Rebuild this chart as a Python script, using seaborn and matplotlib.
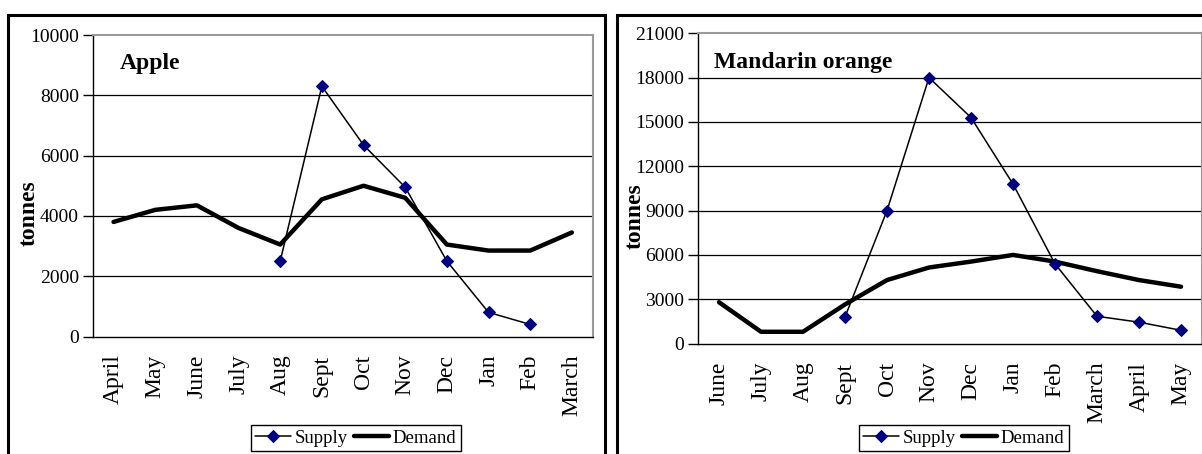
import numpy as np
import pandas as pd
import matplotlib
matplotlib.use("Agg")
import matplotlib.pyplot as plt
from matplotlib.patches import Rectangle
import seaborn as sns

# ---------------- data ----------------
apple_months = ["April", "May", "June", "July", "Aug", "Sept", "Oct", "Nov", "Dec", "Jan", "Feb", "March"]
apple_demand = [3800, 4200, 4350, 3600, 3050, 4550, 5000, 4600, 3050, 2850, 2850, 3450]
apple_supply = [np.nan, np.nan, np.nan, np.nan, 2500, 8300, 6350, 4950, 2500, 800, 400, np.nan]

mand_months = ["June", "July", "Aug", "Sept", "Oct", "Nov", "Dec", "Jan", "Feb", "March", "April", "May"]
mand_demand = [2800, 800, 800, 2650, 4300, 5150, 5550, 6000, 5550, 4900, 4300, 3850]
mand_supply = [np.nan, np.nan, np.nan, 1800, 9000, 18000, 15300, 10800, 5400, 1850, 1450, 900]

apple_yticks = [0, 2000, 4000, 6000, 8000, 10000]
mand_yticks = [0, 3000, 6000, 9000, 12000, 15000, 18000, 21000]

titles = ["Apple", "Mandarin orange"]
ylabel = "tonnes"
series_names = ["Supply", "Demand"]

# ---------------- style ----------------
sns.set_theme(style="white")
plt.rcParams["font.family"] = ["Liberation Serif", "DejaVu Serif"]
plt.rcParams["text.color"] = "black"
plt.rcParams["axes.labelcolor"] = "black"
plt.rcParams["xtick.color"] = "black"
plt.rcParams["ytick.color"] = "black"

W, H = 1202, 454
fig = plt.figure(figsize=(W / 100, H / 100), dpi=100)


def fx(px):
    return px / W


def fy(py):
    return 1 - py / H


panels = [
    dict(months=apple_months, demand=apple_demand, supply=apple_supply, yticks=apple_yticks,
         title=titles[0], box=(92.7, 35, 592.7, 336.5), label_px=(29, 213), legend_px=(356, 438),
         title_x=0.055),
    dict(months=mand_months, demand=mand_demand, supply=mand_supply, yticks=mand_yticks,
         title=titles[1], box=(698, 33.3, 1202, 343.6), label_px=(635, 216), legend_px=(964, 438),
         title_x=0.032),
]

for p in panels:
    x0, y0, x1, y1 = p["box"]
    ax = fig.add_axes([fx(x0), fy(y1), fx(x1 - x0), (y1 - y0) / H])
    df = pd.DataFrame({"month": p["months"], "Demand": p["demand"], "Supply": p["supply"]})
    n = len(p["months"])

    sns.lineplot(data=df, x="month", y="Demand", ax=ax, sort=False, estimator=None,
                 color="black", lw=3.2, label=series_names[1], zorder=3)
    sns.lineplot(data=df.dropna(subset=["Supply"]), x="month", y="Supply", ax=ax, sort=False,
                 estimator=None, color="black", lw=1.1, marker="D", markersize=6.5,
                 markerfacecolor="#000080", markeredgecolor="#000080", label=series_names[0], zorder=4)

    ax.set_xlim(-0.5, n - 0.5)
    ax.set_ylim(p["yticks"][0], p["yticks"][-1])
    ax.set_yticks(p["yticks"])
    ax.set_yticklabels([str(v) for v in p["yticks"]], fontsize=14, color="black")
    ax.set_xticks(np.arange(n))
    ax.set_xticklabels(p["months"], rotation=90, fontsize=17, va="top", ha="center", color="black")
    ax.set_xticks(np.arange(n + 1) - 0.5, minor=True)
    ax.tick_params(axis="x", which="major", length=0, pad=13)
    ax.tick_params(axis="x", which="minor", length=7, width=1, color="black", direction="out")
    ax.tick_params(axis="y", length=7, width=1, color="black", direction="out", pad=3, left=True)

    for yv in p["yticks"][1:-1]:
        ax.axhline(yv, color="black", lw=0.9, zorder=1)

    for side in ["top", "right"]:
        ax.spines[side].set_color("#9a9a9a")
        ax.spines[side].set_linewidth(1.5)
    for side in ["left", "bottom"]:
        ax.spines[side].set_color("black")
        ax.spines[side].set_linewidth(1.0)

    ax.set_xlabel("")
    ax.set_ylabel("")
    lx, ly = p["label_px"]
    fig.text(fx(lx), fy(ly), ylabel, rotation=90, fontsize=17, fontweight="bold",
             ha="center", va="center", color="black")

    ax.text(p["title_x"], 0.905, p["title"], transform=ax.transAxes,
            fontsize=17, fontweight="bold", ha="left", va="center", color="black")

    handles, labels = ax.get_legend_handles_labels()
    order = [labels.index(series_names[0]), labels.index(series_names[1])]
    lpx, lpy = p["legend_px"]
    leg = ax.legend([handles[i] for i in order], [labels[i] for i in order],
                    loc="center", bbox_to_anchor=(fx(lpx), fy(lpy)), bbox_transform=fig.transFigure,
                    ncol=2, fontsize=13.5, frameon=True, fancybox=False, framealpha=1,
                    edgecolor="black", handlelength=1.9, handletextpad=0.2, columnspacing=0.3,
                    borderpad=0.25, borderaxespad=0)
    leg.get_frame().set_linewidth(1.0)
    for t in leg.get_texts():
        t.set_color("black")

# outer frames
fig.patches.append(Rectangle((fx(8), -0.1), fx(605 - 8), fy(15) + 0.1, transform=fig.transFigure,
                             fill=False, lw=2.2, edgecolor="black"))
fig.patches.append(Rectangle((fx(617), -0.1), 0.6, fy(15) + 0.1, transform=fig.transFigure,
                             fill=False, lw=2.2, edgecolor="black"))

fig.savefig("out.png", dpi=100)
